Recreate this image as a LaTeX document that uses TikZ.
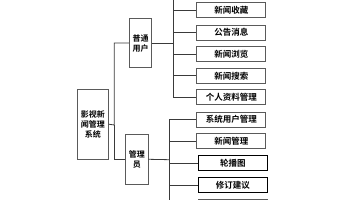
\documentclass[tikz,border=0pt]{standalone}
\usepackage{fontspec}
\usepackage{tikz}
\usetikzlibrary{positioning}
\newfontfamily\cjk{Noto Sans CJK SC Bold}
\definecolor{TreeInk}{HTML}{3A3A3A}
\definecolor{BoxEdge}{HTML}{5A5A5A}
\tikzset{
  tree/.style={x=1pt,y=-1pt,font=\cjk\fontsize{8}{10}\selectfont,text=black},
  unit/.style={draw=BoxEdge,line width=0.8pt,fill=white,align=center,inner sep=1pt},
  leaf/.style={unit,minimum width=69pt,minimum height=15pt,font=\cjk\fontsize{8.5}{10}\selectfont},
  branch/.style={draw=TreeInk,line width=0.8pt},
}
\begin{document}
\begin{tikzpicture}[tree]
  \useasboundingbox (0,0) rectangle (356,200);
  \clip (0,0) rectangle (356,200);

  \node[unit,minimum width=31pt,minimum height=70pt] (sys) at (92.8,124.2)
    {影视新\\闻管理\\系统};
  \node[unit,minimum width=22.4pt,minimum height=49.4pt] (user) at (140.5,43)
    {普通\\用户};
  \node[unit,minimum width=22.4pt,minimum height=49.4pt] (admin) at (136.8,159.3)
    {管理\\员};

  % 普通用户
  \node[leaf] (fav) at (231.3,10.3) {新闻收藏};
  \node[leaf] (notice) at (231.3,32.5) {公告消息};
  \node[leaf] (browse) at (231.3,54.2) {新闻浏览};
  \node[leaf] (search) at (231.3,75.8) {新闻搜索};
  \node[leaf] (profile) at (231.3,97.2) {个人资料管理};

  % 管理员
  \node[leaf] (users) at (231.3,119.5) {系统用户管理};
  \node[leaf] (newsman) at (231.3,141.3) {新闻管理};
  \node[leaf,draw=black] (slides) at (232.8,163) {轮播图};
  \node[leaf,draw=black] (advice) at (232.8,185) {修订建议};
  \node[leaf] (more) at (232.8,206.5) {};

  \coordinate (sysbus) at (114.3,125);
  \coordinate (userbus) at (173.3,43);
  \coordinate (usertop) at (173.3,-12);
  \coordinate (adminbus) at (169.3,159.7);

  \draw[branch] (sys.east) -- (sysbus) |- (user.west);
  \draw[branch] (sysbus) |- (admin.west);

  \draw[branch] (user.east) -- (userbus) -- (usertop);
  \foreach \n in {fav,notice,browse,search,profile}
    \draw[branch] (userbus) |- (\n.west);

  \draw[branch] (admin.east) -- (adminbus);
  \foreach \n in {users,newsman,slides,advice,more}
    \draw[branch] (adminbus) |- (\n.west);
\end{tikzpicture}
\end{document}
